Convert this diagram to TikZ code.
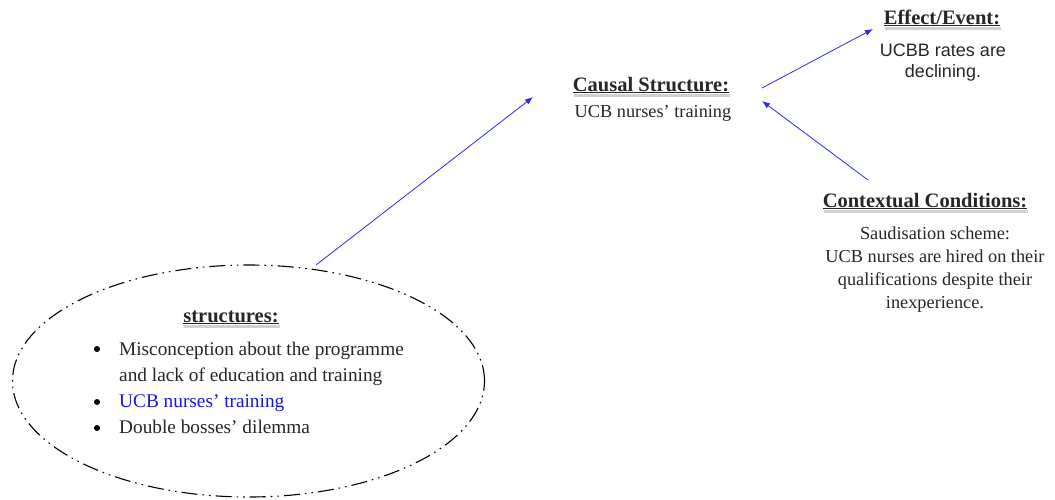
\documentclass[tikz,border=0pt]{standalone}
\usepackage{fontspec}
\setmainfont{Liberation Serif}
\newfontfamily\plainsans{Liberation Sans}
\usetikzlibrary{shapes.geometric,arrows.meta}
\definecolor{linkblue}{RGB}{40,40,240}
\definecolor{bodyblue}{RGB}{20,20,235}
\begin{document}
\begin{tikzpicture}[x=1pt,y=-1pt,
  heading/.style={font=\fontsize{20.5}{24}\selectfont\bfseries, text=black!85, inner sep=0pt, anchor=base},
  headshade/.style={fill=black, fill opacity=0.18, draw=none},
  bodytext/.style={font=\fontsize{18.3}{23}\selectfont, text=black!85, inner sep=0pt, anchor=base},
  sanstext/.style={font=\plainsans\fontsize{18}{21}\selectfont, text=black!85, inner sep=0pt, anchor=base},
  itemtext/.style={font=\fontsize{19.3}{23}\selectfont, text=black!85, inner sep=0pt, anchor=base west},
  bulletmark/.style={circle, fill=black, inner sep=0pt, minimum size=6pt},
  link/.style={draw=linkblue, line width=0.8pt, -{Latex[length=8pt,width=6pt]}},
  structoval/.style={ellipse, draw, line width=1.1pt, minimum width=472pt, minimum height=232pt,
    dash pattern=on 16pt off 5pt on 1.6pt off 5pt on 1.6pt off 5pt}
]
\useasboundingbox (0,0) rectangle (1055,499);

% ---- causal structure ----
\node[heading] (cs) at (651,91) {\underline{Causal Structure:}};
\node[bodytext] (csbody) at (653,117) {UCB nurses’ training};

% ---- effect / event ----
\node[heading] (ef) at (942,24) {\underline{Effect/Event:}};
\node[sanstext] (ef1) at (943,56) {UCBB rates are};
\node[sanstext] (ef2) at (943,77) {declining.};

% ---- contextual conditions ----
\node[heading] (cc) at (925,207) {\underline{Contextual Conditions:}};
\node[bodytext] (cc1) at (935,239) {Saudisation scheme:};
\node[bodytext] (cc2) at (935,262) {UCB nurses are hired on their};
\node[bodytext] (cc3) at (935,285) {qualifications despite their};
\node[bodytext] (cc4) at (935,308) {inexperience.};

% ---- structures oval ----
\node[structoval] (oval) at (248.5,381) {};
\node[heading] (st) at (231,322) {\underline{structures:}};
\node[bulletmark] (b1) at (97,349) {};
\node[itemtext] (i1) at (119,355) {Misconception about the programme};
\node[itemtext] (i1b) at (119,381) {and lack of education and training};
\node[bulletmark] (b2) at (97,402) {};
\node[itemtext, text=bodyblue] (i2) at (119,407.5) {UCB nurses’ training};
\node[bulletmark] (b3) at (97,428) {};
\node[itemtext] (i3) at (119,433.5) {Double bosses’ dilemma};

% ---- soft shade under each heading ----
\foreach \h in {cs,ef,cc,st}{
  \fill[headshade] ([xshift=1pt,yshift=-0.8pt]\h.south west) rectangle ([xshift=1pt,yshift=-3.6pt]\h.south east);
}

% ---- connector ends ----
\coordinate (ovaltop) at (316,265);
\coordinate (csin) at (533,97);
\coordinate (csout) at (762,88);
\coordinate (efin) at (873,29);
\coordinate (ccout) at (868,180);
\coordinate (csright) at (762,101);

\draw[link] (ovaltop) -- (csin);
\draw[link] (csout) -- (efin);
\draw[link] (ccout) -- (csright);
\end{tikzpicture}
\end{document}
